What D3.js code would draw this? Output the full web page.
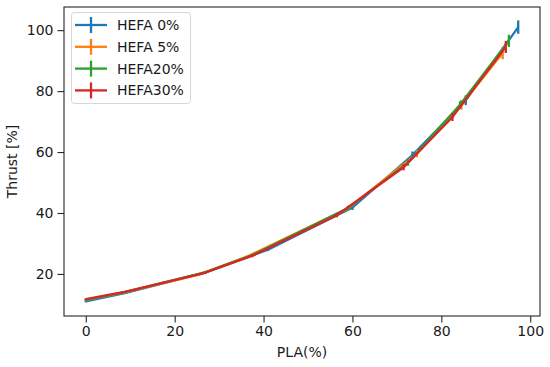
<!DOCTYPE html>
<html>
<head>
<meta charset="utf-8">
<script src="https://cdn.jsdelivr.net/npm/d3@7"></script>
<style>
  body { margin: 0; background: #fff; }
  text { font-family: "DejaVu Sans", sans-serif; fill: #1a1a1a; }
</style>
</head>
<body>
<script>
  // values
  const seriesNames = ["HEFA 0%", "HEFA 5%", "HEFA20%", "HEFA30%"];
  const colors = ["#1f77b4", "#ff7f0e", "#2ca02c", "#d62728"];

  const xHefa0 = [0, 9, 27, 41, 60, 73.5, 85.5, 97.3];
  const yHefa0 = [11.0, 13.8, 20.5, 28.0, 41.8, 59.0, 77.0, 101.0];
  const eHefa0 = [0.3, 0.3, 0.4, 0.5, 0.8, 1.2, 1.6, 2.2];

  const xHefa5 = [0, 9, 25.5, 36, 59, 74.5, 84.5, 93.8];
  const yHefa5 = [11.5, 14.0, 19.8, 25.5, 41.5, 59.5, 75.5, 92.5];
  const eHefa5 = [0.3, 0.3, 0.4, 0.5, 0.8, 1.2, 1.6, 2.0];

  const xHefa20 = [0, 9, 27, 38, 59, 72.5, 84.2, 95.2];
  const yHefa20 = [11.5, 14.1, 20.6, 26.5, 41.6, 56.5, 75.5, 96.5];
  const eHefa20 = [0.3, 0.3, 0.4, 0.5, 0.8, 1.0, 1.2, 2.0];

  const xHefa30 = [0, 9, 26.5, 37.5, 56.5, 71.5, 82.5, 94.5];
  const yHefa30 = [11.7, 14.2, 20.3, 26.0, 39.3, 55.0, 71.5, 94.5];
  const eHefa30 = [0.3, 0.3, 0.4, 0.5, 0.7, 1.0, 1.3, 2.0];

  const xTicks = [0, 20, 40, 60, 80, 100];
  const yTicks = [20, 40, 60, 80, 100];

  const series = [
    { name: seriesNames[0], xs: xHefa0, ys: yHefa0, es: eHefa0 },
    { name: seriesNames[1], xs: xHefa5, ys: yHefa5, es: eHefa5 },
    { name: seriesNames[2], xs: xHefa20, ys: yHefa20, es: eHefa20 },
    { name: seriesNames[3], xs: xHefa30, ys: yHefa30, es: eHefa30 }
  ];

  const w = 550, h = 367;
  const m = { left: 64, right: 10, top: 7, bottom: 51 };

  const svg = d3.select("body").append("svg")
    .attr("width", w).attr("height", h);

  const x = d3.scaleLinear().domain([-4.9, 102.2]).range([m.left, w - m.right]);
  const y = d3.scaleLinear().domain([6.2, 107.6]).range([h - m.bottom, m.top]);

  const fs = 14;
  const lw = 2.3;

  // x axis
  const xAxis = svg.append("g")
    .attr("transform", `translate(0,${h - m.bottom})`)
    .call(d3.axisBottom(x).tickValues(xTicks).tickSize(6.5).tickPadding(4));
  xAxis.select(".domain").remove();
  xAxis.selectAll("line").attr("stroke", "#262626").attr("stroke-width", 1.1);
  xAxis.selectAll("text").attr("font-size", fs).attr("fill", "#1a1a1a")
    .style("font-family", "DejaVu Sans");

  // y axis
  const yAxis = svg.append("g")
    .attr("transform", `translate(${m.left},0)`)
    .call(d3.axisLeft(y).tickValues(yTicks).tickSize(6.5).tickPadding(4));
  yAxis.select(".domain").remove();
  yAxis.selectAll("line").attr("stroke", "#262626").attr("stroke-width", 1.1);
  yAxis.selectAll("text").attr("font-size", fs).attr("fill", "#1a1a1a")
    .style("font-family", "DejaVu Sans");

  // axis titles
  svg.append("text")
    .attr("x", (x.range()[0] + x.range()[1]) / 2)
    .attr("y", 357)
    .attr("text-anchor", "middle")
    .attr("font-size", fs)
    .text("PLA(%)");

  svg.append("text")
    .attr("transform", `translate(17,${(y.range()[0] + y.range()[1]) / 2}) rotate(-90)`)
    .attr("text-anchor", "middle")
    .attr("font-size", fs)
    .text("Thrust [%]");

  const plot = svg.append("g");
  const line = d3.line().x(d => x(d[0])).y(d => y(d[1]));

  series.forEach((s, i) => {
    const pts = s.xs.map((v, j) => [v, s.ys[j], s.es[j]]);
    plot.append("path")
      .datum(pts)
      .attr("d", line)
      .attr("fill", "none")
      .attr("stroke", colors[i])
      .attr("stroke-width", lw);

    plot.selectAll(".err" + i)
      .data(pts)
      .enter()
      .append("line")
      .attr("class", "err" + i)
      .attr("x1", d => x(d[0]))
      .attr("x2", d => x(d[0]))
      .attr("y1", d => y(d[1] - d[2]))
      .attr("y2", d => y(d[1] + d[2]))
      .attr("stroke", colors[i])
      .attr("stroke-width", lw);
  });

  // frame
  svg.append("rect")
    .attr("x", m.left).attr("y", m.top)
    .attr("width", w - m.left - m.right)
    .attr("height", h - m.top - m.bottom)
    .attr("fill", "none")
    .attr("stroke", "#262626")
    .attr("stroke-width", 1.1);

  // legend
  const lg = svg.append("g");
  lg.append("rect")
    .attr("x", 71.5).attr("y", 12.5)
    .attr("width", 119).attr("height", 91)
    .attr("rx", 3)
    .attr("fill", "white")
    .attr("fill-opacity", 0.8)
    .attr("stroke", "#d6d6d6")
    .attr("stroke-width", 1);

  const rows = lg.selectAll("g.row")
    .data(series)
    .enter()
    .append("g")
    .attr("transform", (d, i) => `translate(0,${25 + i * 21.8})`);

  rows.append("line")
    .attr("x1", 75).attr("x2", 107).attr("y1", 0).attr("y2", 0)
    .attr("stroke", (d, i) => colors[i]).attr("stroke-width", lw);
  rows.append("line")
    .attr("x1", 91).attr("x2", 91).attr("y1", -8).attr("y2", 8)
    .attr("stroke", (d, i) => colors[i]).attr("stroke-width", lw);
  rows.append("text")
    .attr("x", 117).attr("y", 0).attr("dy", "0.36em")
    .attr("font-size", fs)
    .text(d => d.name);
</script>
</body>
</html>
